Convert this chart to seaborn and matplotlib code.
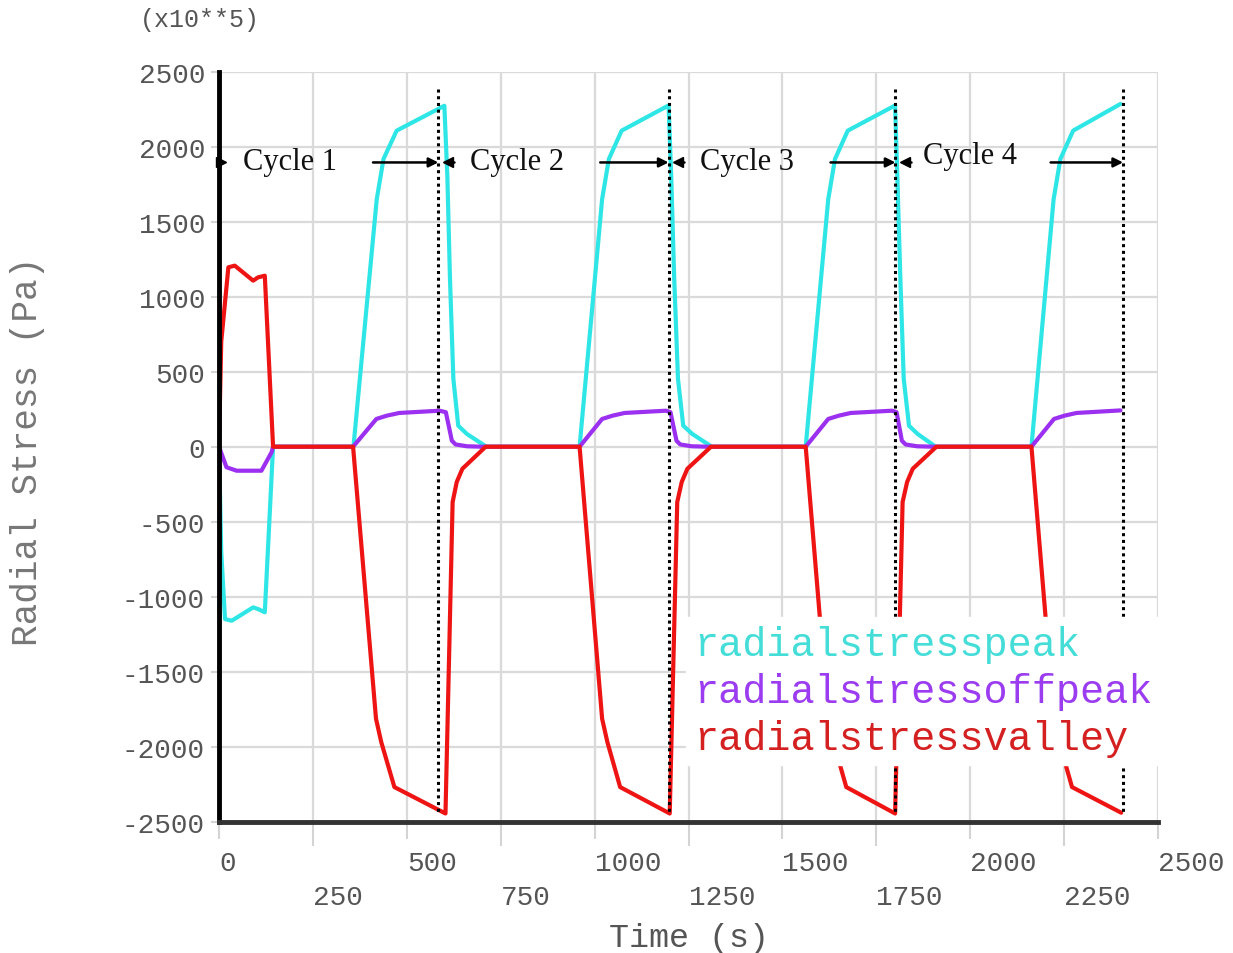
import matplotlib
matplotlib.use('Agg')
import matplotlib.pyplot as plt
import seaborn as sns
import pandas as pd

# ---------------- data ----------------
peak_time = [0, 6, 16, 34, 91, 104, 122, 144,
             358, 420, 438, 473, 600, 608, 615, 624, 637, 660, 712,
             960, 1020, 1038, 1072, 1197, 1204, 1212, 1222, 1236, 1260, 1312,
             1562, 1622, 1640, 1674, 1800, 1806, 1814, 1823, 1837, 1860, 1908,
             2163, 2222, 2240, 2274, 2400]
peak_vals = [0, -700, -1149, -1160, -1071, -1082, -1104, 0,
             0, 1650, 1918, 2107, 2273, 1800, 1118, 451, 140, 85, 0,
             0, 1650, 1918, 2107, 2275, 1800, 1118, 451, 140, 85, 0,
             0, 1650, 1918, 2107, 2275, 1800, 1118, 451, 140, 85, 0,
             0, 1650, 1918, 2107, 2285]

off_time = [0, 20, 47, 113, 140, 144,
            357, 419, 447, 480, 587, 604, 620, 630, 660, 700,
            960, 1020, 1048, 1080, 1190, 1202, 1218, 1228, 1258, 1300,
            1562, 1622, 1650, 1682, 1792, 1804, 1818, 1828, 1858, 1900,
            2163, 2223, 2251, 2283, 2400]
off_vals = [0, -137, -160, -160, -37, 0,
            0, 185, 207, 225, 240, 230, 40, 15, 3, 0,
            0, 185, 207, 225, 240, 230, 40, 15, 3, 0,
            0, 185, 207, 225, 240, 230, 40, 15, 3, 0,
            0, 185, 207, 225, 242]

valley_time = [0, 6, 25, 42, 91, 104, 122, 144,
               357, 418, 432, 467, 603, 622, 633, 648, 710,
               960, 1020, 1034, 1068, 1200, 1220, 1232, 1247, 1310,
               1562, 1622, 1636, 1670, 1800, 1820, 1832, 1847, 1910,
               2163, 2223, 2237, 2271, 2402]
valley_vals = [0, 700, 1196, 1207, 1107, 1129, 1140, 0,
               0, -1813, -1969, -2269, -2445, -369, -235, -147, 0,
               0, -1813, -1969, -2269, -2445, -369, -235, -147, 0,
               0, -1813, -1969, -2269, -2445, -369, -235, -147, 0,
               0, -1813, -1969, -2269, -2440]

series_names = ['radialstresspeak', 'radialstressoffpeak', 'radialstressvalley']
cycle_labels = ['Cycle 1', 'Cycle 2', 'Cycle 3', 'Cycle 4']
cycle_ends = [584, 1197, 1801, 2407]
x_major = [0, 500, 1000, 1500, 2000, 2500]
x_minor = [250, 750, 1250, 1750, 2250]
y_ticks = [2500, 2000, 1500, 1000, 500, 0, -500, -1000, -1500, -2000, -2500]

# ---------------- build long-form frame ----------------
df = pd.concat([
    pd.DataFrame({'time': peak_time, 'stress': peak_vals, 'series': series_names[0]}),
    pd.DataFrame({'time': off_time, 'stress': off_vals, 'series': series_names[1]}),
    pd.DataFrame({'time': valley_time, 'stress': valley_vals, 'series': series_names[2]}),
], ignore_index=True)

sns.set_theme(style='white')
plt.rcParams['font.family'] = ['Liberation Mono', 'DejaVu Sans']

line_colors = {'radialstresspeak': '#2ee6e6',
               'radialstressoffpeak': '#9b30f0',
               'radialstressvalley': '#ee1414'}
text_colors = ['#45ddd8', '#9b3cf0', '#d42020']

fig = plt.figure(figsize=(12.33, 9.54), dpi=100)
ax = fig.add_axes([0.1776, 0.1376, 0.7616, 0.7862])

sns.lineplot(data=df, x='time', y='stress', hue='series', palette=line_colors,
             hue_order=series_names, estimator=None, sort=False, lw=3, ax=ax)

ax.set_xlim(0, 2500)
ax.set_ylim(-2500, 2500)

# grid & ticks
ax.set_xticks(x_major, labels=[str(v) for v in x_major])
ax.set_xticks(x_minor, labels=[str(v) for v in x_minor], minor=True)
ax.set_yticks(y_ticks, labels=[str(v) for v in y_ticks])
ax.xaxis.grid(True, which='both', color='#dadada', lw=1.6)
ax.yaxis.grid(True, which='major', color='#dadada', lw=1.6)
ax.set_axisbelow(True)

ax.tick_params(axis='x', which='major', length=12, width=1.5, color='#d4d4d4',
               pad=8, labelsize=20, labelcolor='#555555', bottom=True)
ax.tick_params(axis='x', which='minor', length=17, width=1.5, color='#d4d4d4',
               pad=28, labelsize=20, labelcolor='#555555', bottom=True)
ax.tick_params(axis='y', which='major', length=6, width=1.5, color='#d4d4d4',
               pad=4, labelsize=20, labelcolor='#555555', left=True)
for lab in ax.get_xticklabels(which='both'):
    lab.set_ha('left')

for s in ['top', 'right']:
    ax.spines[s].set_visible(False)
ax.spines['left'].set_color('black')
ax.spines['left'].set_linewidth(3.5)
ax.spines['bottom'].set_color('#333333')
ax.spines['bottom'].set_linewidth(3.5)

ax.set_xlabel('Time (s)', fontsize=24, color='#555555')
ax.xaxis.set_label_coords(0.5, -0.154)
ax.xaxis.label.set_va('center')
ax.set_ylabel('Radial Stress (Pa)', fontsize=26, color='#777777')
ax.yaxis.set_label_coords(-0.2035, 0.4956)
ax.yaxis.label.set_va('center')

fig.text(140 / 1233, 1 - 20 / 954, '(x10**5)', fontsize=18, color='#555555',
         ha='left', va='center')

# dotted cycle boundaries
for d in cycle_ends:
    ax.plot([d, d], [2384, -2450], color='black', ls=(0, (1, 1.2)), lw=2.2, zorder=3)

# cycle annotations
label_x = [64, 669, 1281, 1873]
label_y = [1900, 1900, 1900, 1940]
arrow_start = [410, 1015, 1628, 2214]
arrow_y = 1895
for i, lab in enumerate(cycle_labels):
    ax.text(label_x[i], label_y[i], lab, fontsize=22, family='Liberation Serif',
            color='#111111', va='center', ha='left', zorder=4)
    ax.annotate('', xy=(cycle_ends[i], arrow_y), xytext=(arrow_start[i], arrow_y),
                arrowprops=dict(arrowstyle='-|>', color='black', lw=1.8,
                                mutation_scale=14, shrinkA=0, shrinkB=0), zorder=4)
ax.plot([6], [arrow_y], marker='>', ms=7, color='black', zorder=4, clip_on=False)
for d in cycle_ends[:3]:
    ax.plot([d + 25], [arrow_y], marker='<', ms=7, color='black', zorder=4)
    ax.plot([d + 25, d + 42], [arrow_y, arrow_y], color='black', lw=1.8, zorder=4)

# legend
handles, labels = ax.get_legend_handles_labels()
leg = ax.legend(handles, labels, loc='upper left', bbox_to_anchor=(0.4974, 0.2733),
                frameon=True, framealpha=1, facecolor='white', edgecolor='white',
                fancybox=False, handlelength=0, handletextpad=0, borderpad=0.2,
                borderaxespad=0, labelspacing=0.22,
                prop={'family': 'Liberation Mono', 'size': 29})
leg.set_zorder(10)
for h in leg.legend_handles:
    h.set_visible(False)
for t, c in zip(leg.get_texts(), text_colors):
    t.set_color(c)

fig.savefig('out.png', dpi=100, facecolor='white')
